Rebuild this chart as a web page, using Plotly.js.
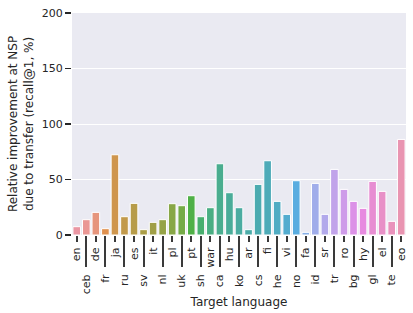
<!DOCTYPE html>
<html>
<head>
<meta charset="utf-8">
<script src="https://cdn.plot.ly/plotly-3.0.1.min.js"></script>
<style>html,body{margin:0;padding:0;background:#fff;}#chart{width:413px;height:313px;}</style>
</head>
<body>
<div id="chart"></div>
<script>
// ---- data ----
const languages = ["en","ceb","de","fr","ja","ru","es","sv","it","nl","pl","uk","pt","sh","war","ca","hu","ko","ar","cs","fi","he","vi","no","fa","id","sr","tr","ro","bg","hy","gl","el","te","eo"];
const improvement = [7.5,13.8,20.4,5.7,72.3,16.5,28.5,4.8,11.4,13.8,28.2,26.4,35.4,16.5,24.6,64.2,38.1,24.6,4.8,45.6,66.9,30.3,18.6,48.9,2.4,46.5,18.6,59.1,41.1,30.3,24.0,48.3,39.3,12.3,86.1];
const yTicks = [0,50,100,150,200];

// ---- seaborn-style husl palette (l=.7) desaturated to .75 ----
const M = [[3.2406,-1.5372,-0.4986],[-0.9689,1.8758,0.0415],[0.0557,-0.2040,1.0570]];
const refU = 0.19784, refV = 0.46834, labE = 0.008856, labK = 903.3;
function maxChroma(L, H) {
  const hr = H * Math.PI / 180, sH = Math.sin(hr), cH = Math.cos(hr);
  const sub1 = Math.pow(L + 16, 3) / 1560896;
  const sub2 = sub1 > labE ? sub1 : L / labK;
  let res = Infinity;
  for (const [m1, m2, m3] of M) {
    const top = (0.99915 * m1 + 1.05122 * m2 + 1.14460 * m3) * sub2;
    const rb = 0.86330 * m3 - 0.17266 * m2;
    const lb = 0.12949 * m3 - 0.38848 * m1;
    const bottom = (rb * sH + lb * cH) * sub2;
    for (const t of [0, 1]) {
      const C = L * (top - 1.05122 * t) / (bottom + 0.17266 * sH * t);
      if (C > 0 && C < res) res = C;
    }
  }
  return res;
}
function fromLinear(c) { return c <= 0.0031308 ? 12.92 * c : 1.055 * Math.pow(c, 1 / 2.4) - 0.055; }
function fInv(t) { return Math.pow(t, 3) > labE ? Math.pow(t, 3) : (116 * t - 16) / labK; }
function huslToRgb(H, S, L) {
  const C = maxChroma(L, H) / 100 * S;
  const hr = H * Math.PI / 180;
  const U = Math.cos(hr) * C, V = Math.sin(hr) * C;
  const vY = fInv((L + 16) / 116);
  const vU = U / (13 * L) + refU, vV = V / (13 * L) + refV;
  const Y = vY;
  const X = 0 - (9 * Y * vU) / ((vU - 4) * vV - vU * vV);
  const Z = (9 * Y - 15 * vV * Y - vV * X) / (3 * vV);
  return M.map(r => Math.min(1, Math.max(0, fromLinear(r[0] * X + r[1] * Y + r[2] * Z))));
}
function rgbToHls(r, g, b) {
  const mx = Math.max(r, g, b), mn = Math.min(r, g, b);
  const l = (mx + mn) / 2;
  if (mx === mn) return [0, l, 0];
  const s = l <= 0.5 ? (mx - mn) / (mx + mn) : (mx - mn) / (2 - mx - mn);
  const rc = (mx - r) / (mx - mn), gc = (mx - g) / (mx - mn), bc = (mx - b) / (mx - mn);
  let h;
  if (r === mx) h = bc - gc; else if (g === mx) h = 2 + rc - bc; else h = 4 + gc - rc;
  h = ((h / 6) % 1 + 1) % 1;
  return [h, l, s];
}
function hlsToRgb(h, l, s) {
  if (s === 0) return [l, l, l];
  const m2 = l <= 0.5 ? l * (1 + s) : l + s - l * s;
  const m1 = 2 * l - m2;
  const v = (hue) => {
    hue = ((hue % 1) + 1) % 1;
    if (hue < 1 / 6) return m1 + (m2 - m1) * hue * 6;
    if (hue < 0.5) return m2;
    if (hue < 2 / 3) return m1 + (m2 - m1) * (2 / 3 - hue) * 6;
    return m1;
  };
  return [v(h + 1 / 3), v(h), v(h - 1 / 3)];
}
function palette(n) {
  const out = [];
  for (let i = 0; i < n; i++) {
    const h = ((i / n + 0.01) % 1) * 359;
    const rgb = huslToRgb(h, 0.9 * 99, 0.7 * 99);
    const [hh, ll, ss] = rgbToHls(...rgb);
    const d = hlsToRgb(hh, ll, ss * 0.75).map(c => Math.round(Math.min(1, Math.max(0, c)) * 255));
    out.push(`rgb(${d[0]},${d[1]},${d[2]})`);
  }
  return out;
}
const colors = palette(languages.length);

const upper = languages.filter((_, i) => i % 2 === 0);
const lower = languages.filter((_, i) => i % 2 === 1);
const txt = '#262626';
const tickCol = '#3a3a3a';
const font = 'DejaVu Sans, sans-serif';

const traces = [
  {
    type: 'bar', x: languages, y: improvement, width: 0.8,
    marker: { color: colors, line: { color: '#ffffff', width: 1 } },
    hoverinfo: 'x+y', showlegend: false
  },
  {
    type: 'scatter', mode: 'markers', x: languages, y: languages.map(() => 0),
    xaxis: 'x2', marker: { opacity: 0, size: 1 }, hoverinfo: 'skip', showlegend: false
  }
];

const baseX = {
  type: 'category', categoryorder: 'array', categoryarray: languages,
  range: [-0.5, languages.length - 0.5], showgrid: false, zeroline: false,
  ticks: 'outside', tickcolor: tickCol, tickwidth: 2, tickangle: -90,
  tickfont: { family: font, size: 11, color: txt }, showline: false, fixedrange: true
};

const layout = {
  width: 413, height: 313,
  margin: { l: 72, r: 7, t: 13, b: 78 },
  paper_bgcolor: '#ffffff', plot_bgcolor: '#EAEAF2',
  font: { family: font, color: txt },
  bargap: 0.2,
  xaxis: Object.assign({}, baseX, {
    tickmode: 'array', tickvals: upper, ticktext: upper, ticklen: 6, ticklabelstandoff: 1
  }),
  xaxis2: Object.assign({}, baseX, {
    overlaying: 'x', anchor: 'y', side: 'bottom',
    tickmode: 'array', tickvals: lower, ticktext: lower, ticklen: 31, ticklabelstandoff: 3,
    title: { text: 'Target language', font: { family: font, size: 12, color: txt }, standoff: 4 }
  }),
  yaxis: {
    range: [0, 200], tickmode: 'array', tickvals: yTicks, ticktext: yTicks.map(String),
    showgrid: true, gridcolor: '#ffffff', gridwidth: 1, zeroline: false,
    ticks: 'outside', ticklen: 6, tickcolor: txt, tickwidth: 1.2,
    tickfont: { family: font, size: 11, color: txt },
    title: { text: 'Relative improvement at NSP<br>due to transfer (recall@1, %)', font: { family: font, size: 12, color: txt }, standoff: 5 },
    fixedrange: true
  }
};

Plotly.newPlot('chart', traces, layout, { displayModeBar: false, staticPlot: true });
</script>
</body>
</html>
